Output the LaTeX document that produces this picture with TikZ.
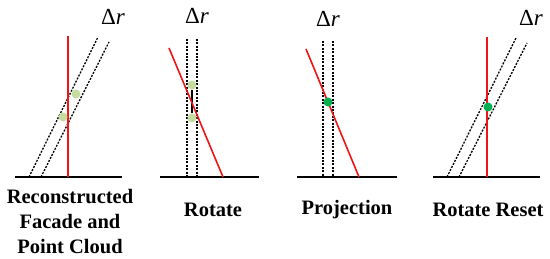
\documentclass[tikz,border=0pt]{standalone}
\usepackage{fontspec}
\setmainfont{Liberation Serif}
\definecolor{palegreen}{RGB}{196,220,160}
\definecolor{projgreen}{RGB}{0,176,80}
\definecolor{facadered}{RGB}{240,20,20}
\begin{document}
\begin{tikzpicture}[x=1pt,y=-1pt,
  base/.style={line width=1.5pt,black},
  facade/.style={line width=1.6pt,facadered},
  band/.style={line width=1.3pt,dash pattern=on 2pt off 1.4pt},
  pale/.style={circle,fill=palegreen,draw=none,minimum size=9pt,inner sep=0pt},
  proj/.style={circle,fill=projgreen,draw=none,minimum size=9pt,inner sep=0pt},
  lbl/.style={font=\fontsize{20.5}{25}\selectfont\bfseries,align=center},
  dr/.style={font=\fontsize{23}{26}\selectfont}]
\useasboundingbox (0,0) rectangle (550,259);
% Panel 1
\coordinate (b1l) at (15,177); \coordinate (b1r) at (122,177);
\coordinate (r1t) at (68,36); \coordinate (r1b) at (68,177);
\coordinate (d1a) at (29,177); \coordinate (d1b) at (98,37);
\coordinate (d1c) at (41,177); \coordinate (d1d) at (109,42);
\draw[base] (b1l) -- (b1r);
\draw[band] (d1a) -- (d1b);
\draw[band] (d1c) -- (d1d);
\draw[facade] (r1t) -- (r1b);
\node[pale] (p1a) at (76,94) {};
\node[pale] (p1b) at (63,117) {};
\node[dr] (dr1) at (113,17) {Δ\textit{r}};
\node[lbl] (t1) at (70,222) {Reconstructed\\Facade and\\Point Cloud};
% Panel 2
\coordinate (b2l) at (160,177); \coordinate (b2r) at (259,177);
\coordinate (v2a) at (187,39); \coordinate (v2b) at (187,177);
\coordinate (v2c) at (197,39); \coordinate (v2d) at (197,177);
\coordinate (r2t) at (169,48); \coordinate (r2b) at (223,177);
\draw[base] (b2l) -- (b2r);
\draw[band] (v2a) -- (v2b);
\draw[band] (v2c) -- (v2d);
\node[pale] (p2a) at (192,85) {};
\node[pale] (p2b) at (192,118) {};
\draw[line width=1.8pt] (p2a.south) -- (p2b.north);
\draw[facade] (r2t) -- (r2b);
\node[dr] (dr2) at (197,16) {Δ\textit{r}};
\node[lbl] (t2) at (213,210) {Rotate};
% Panel 3
\coordinate (b3l) at (297,177); \coordinate (b3r) at (397,177);
\coordinate (v3a) at (323,41); \coordinate (v3b) at (323,177);
\coordinate (v3c) at (333,41); \coordinate (v3d) at (333,177);
\coordinate (r3t) at (306,49); \coordinate (r3b) at (359,177);
\draw[base] (b3l) -- (b3r);
\draw[band] (v3a) -- (v3b);
\draw[band] (v3c) -- (v3d);
\draw[facade] (r3t) -- (r3b);
\node[proj] (p3) at (328,102) {};
\node[dr] (dr3) at (328,19) {Δ\textit{r}};
\node[lbl] (t3) at (347,210) {Projection};
% Panel 4
\coordinate (b4l) at (433,177); \coordinate (b4r) at (540,177);
\coordinate (r4t) at (487,37); \coordinate (r4b) at (487,177);
\coordinate (d4a) at (447,177); \coordinate (d4b) at (516,38);
\coordinate (d4c) at (459,177); \coordinate (d4d) at (527,43);
\draw[base] (b4l) -- (b4r);
\draw[band] (d4a) -- (d4b);
\draw[band] (d4c) -- (d4d);
\draw[facade] (r4t) -- (r4b);
\node[proj] (p4) at (488,107) {};
\node[dr] (dr4) at (531,18) {Δ\textit{r}};
\node[lbl] (t4) at (488,210) {Rotate Reset};
\end{tikzpicture}
\end{document}
